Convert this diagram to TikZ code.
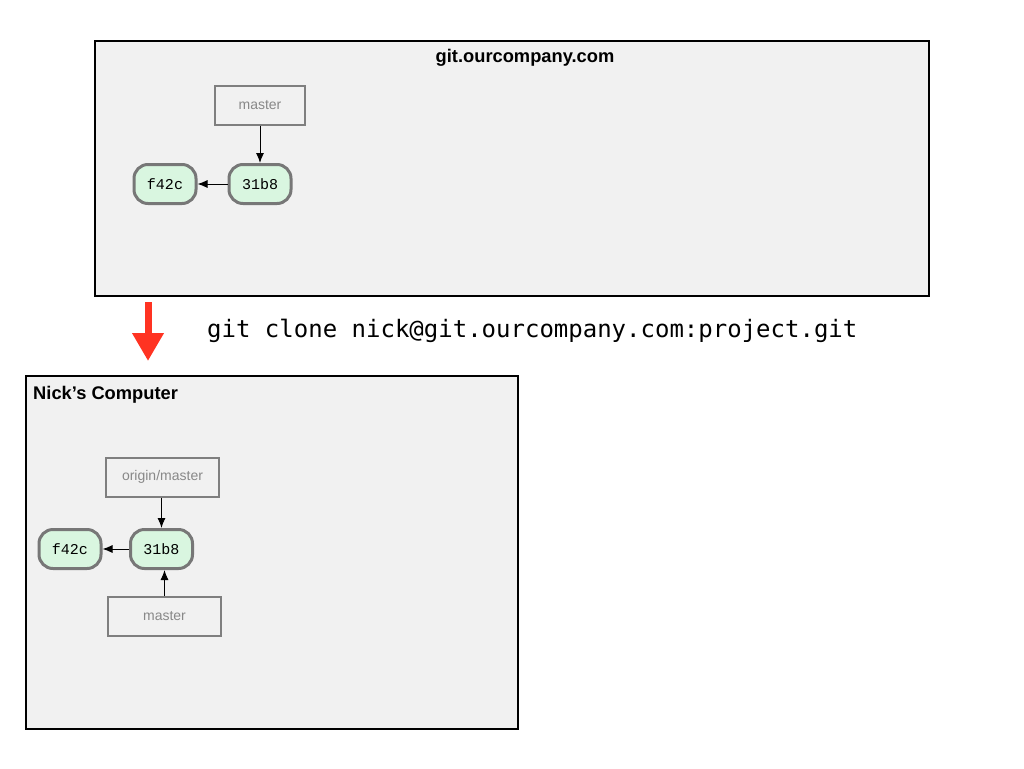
\documentclass[tikz,border=0pt]{standalone}
\usepackage{fontspec}
\setmainfont{Liberation Sans}
\newfontfamily\cmdfont{DejaVu Sans Mono}
\newfontfamily\commitfont{Liberation Mono}
\usetikzlibrary{arrows.meta}
\definecolor{panelfill}{HTML}{F1F1F1}
\definecolor{commitfill}{HTML}{D9F6E0}
\definecolor{commitdraw}{HTML}{777777}
\definecolor{refdraw}{HTML}{7F7F7F}
\definecolor{reftext}{HTML}{888888}
\definecolor{clonered}{HTML}{FF3322}
\tikzset{
  panel/.style={draw=black, line width=2pt, fill=panelfill},
  commit/.style={draw=commitdraw, line width=3pt, fill=commitfill, rounded corners=14pt,
    minimum width=62pt, minimum height=39pt, inner sep=0pt,
    font=\commitfont\fontsize{15}{17}\selectfont},
  refbox/.style={draw=refdraw, line width=2pt, fill=panelfill, minimum height=39pt,
    inner sep=0pt, text=reftext, font=\fontsize{14}{16}\selectfont},
  link/.style={-{Latex[length=10pt,width=8pt]}, line width=1pt, black},
  paneltitle/.style={font=\bfseries\fontsize{18.3}{21}\selectfont}
}
\begin{document}
\begin{tikzpicture}[x=1pt,y=-1pt]
\useasboundingbox (0,0) rectangle (1024,768);
% server panel
\node[panel, anchor=north west, minimum width=834pt, minimum height=255pt, inner sep=0pt] (server) at (94,40) {};
\node[paneltitle] (servertitle) at (525,58) {git.ourcompany.com};
\node[refbox, minimum width=90pt] (smaster) at (260,105) {master};
\node[commit] (s31) at (260,184) {31b8};
\node[commit] (sf42) at (165,184) {f42c};
\draw[link] (smaster.south) -- (s31.north);
\draw[link] (s31.west) -- (sf42.east);
% clone arrow and command
\coordinate (redtop) at (148,302);
\coordinate (redbot) at (148,361);
\draw[clonered, line width=7pt, -{Triangle[length=28pt,width=30pt]}] (redtop) -- (redbot);
\node[anchor=west, font=\cmdfont\fontsize{24}{28}\selectfont, inner sep=0pt] (cmd) at (207,331) {git clone nick@git.ourcompany.com:project.git};
% local panel
\node[panel, anchor=north west, minimum width=492pt, minimum height=353pt, inner sep=0pt] (local) at (25,375) {};
\node[paneltitle, anchor=west, inner sep=0pt] (localtitle) at (33,395) {Nick\char"27 s Computer};
\node[refbox, minimum width=113pt] (lorigin) at (162.5,477) {origin/master};
\node[commit] (l31) at (161.5,549) {31b8};
\node[commit] (lf42) at (70,549) {f42c};
\node[refbox, minimum width=113pt] (lmaster) at (164.5,616) {master};
\draw[link] (lorigin.south -| l31.north) -- (l31.north);
\draw[link] (l31.west) -- (lf42.east);
\draw[link] (lmaster.north) -- (lmaster.north |- l31.south);
\end{tikzpicture}
\end{document}
